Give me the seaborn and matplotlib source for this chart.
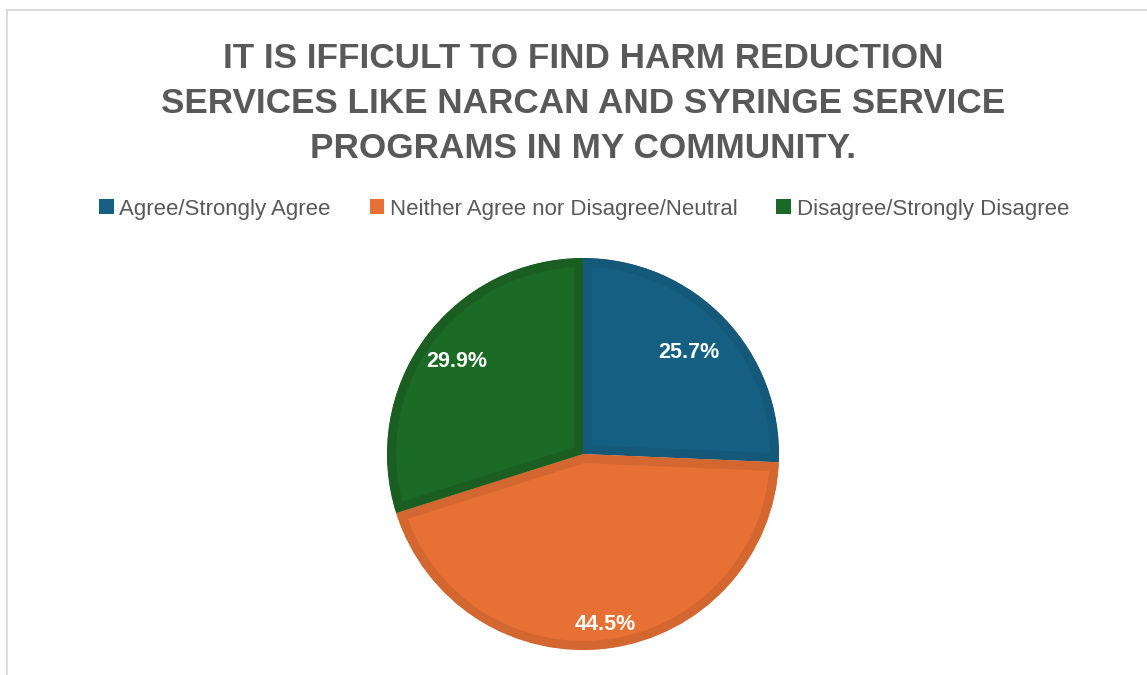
import numpy as np
import matplotlib
matplotlib.use("Agg")
import matplotlib.pyplot as plt
from matplotlib.patches import Patch, Rectangle
import seaborn as sns

# Survey responses (percent of respondents)
categories = ["Agree/Strongly Agree",
              "Neither Agree nor Disagree/Neutral",
              "Disagree/Strongly Disagree"]
shares = [25.7, 44.5, 29.9]

title_lines = ["IT IS IFFICULT TO FIND HARM REDUCTION",
               "SERVICES LIKE NARCAN AND SYRINGE SERVICE",
               "PROGRAMS IN MY COMMUNITY."]

fill_colors = ["#156082", "#E77034", "#1B6A26"]
edge_colors = ["#14587A", "#D4672F", "#1A5E22"]
label_radius = [0.75, 0.88, 0.80]   # radial position of each percentage label

sns.set_theme(style="white")
plt.rcParams["font.family"] = ["Liberation Sans", "DejaVu Sans"]

W, H = 1147, 675
fig = plt.figure(figsize=(W / 100, H / 100), dpi=100)
fig.patch.set_facecolor("white")

# light chart frame (runs off the right and bottom edges)
fig.patches.append(Rectangle((7 / W, -0.05), 1.2, (H - 9.5) / H + 0.05,
                             transform=fig.transFigure, fill=False,
                             edgecolor="#D9D9D9", linewidth=1.3))

# title, one baseline per line
baselines = [68, 113, 158]
for line, yb in zip(title_lines, baselines):
    fig.text(583 / W, 1 - yb / H, line, ha="center", va="baseline",
             fontsize=25.3, fontweight="bold", color="#595959")

# pie
cx, cy, R = 583, 454, 196
ax = fig.add_axes([(cx - R) / W, (H - cy - R) / H, 2 * R / W, 2 * R / H])
wedges, _, pct_texts = ax.pie(
    shares, colors=sns.color_palette(fill_colors), startangle=90,
    counterclock=False, radius=1, autopct="%1.1f%%", pctdistance=0.8,
    wedgeprops=dict(linewidth=13),
    textprops=dict(color="white", fontsize=15.5, fontweight="bold"))
ax.set_xlim(-1, 1)
ax.set_ylim(-1, 1)
ax.set_aspect("equal")
ax.axis("off")

for w, ec, t, r in zip(wedges, edge_colors, pct_texts, label_radius):
    w.set_edgecolor(ec)
    # keep the border stroke inside its own wedge
    w.set_clip_on(True)
    w.set_clip_path(w)
    mid = np.deg2rad((w.theta1 + w.theta2) / 2)
    t.set_position((r * np.cos(mid), r * np.sin(mid)))
    t.set_ha("center")
    t.set_va("center")

# legend
handles = [Patch(facecolor=c, edgecolor="none") for c in fill_colors]
fig.legend(handles, categories, loc="center",
           bbox_to_anchor=(584 / W, 1 - 209 / H), ncol=3, frameon=False,
           fontsize=16, labelcolor="#595959", handlelength=0.66,
           handleheight=0.66, handletextpad=0.25, columnspacing=1.75,
           borderpad=0, borderaxespad=0)

fig.savefig("out.png", dpi=100, facecolor="white")
